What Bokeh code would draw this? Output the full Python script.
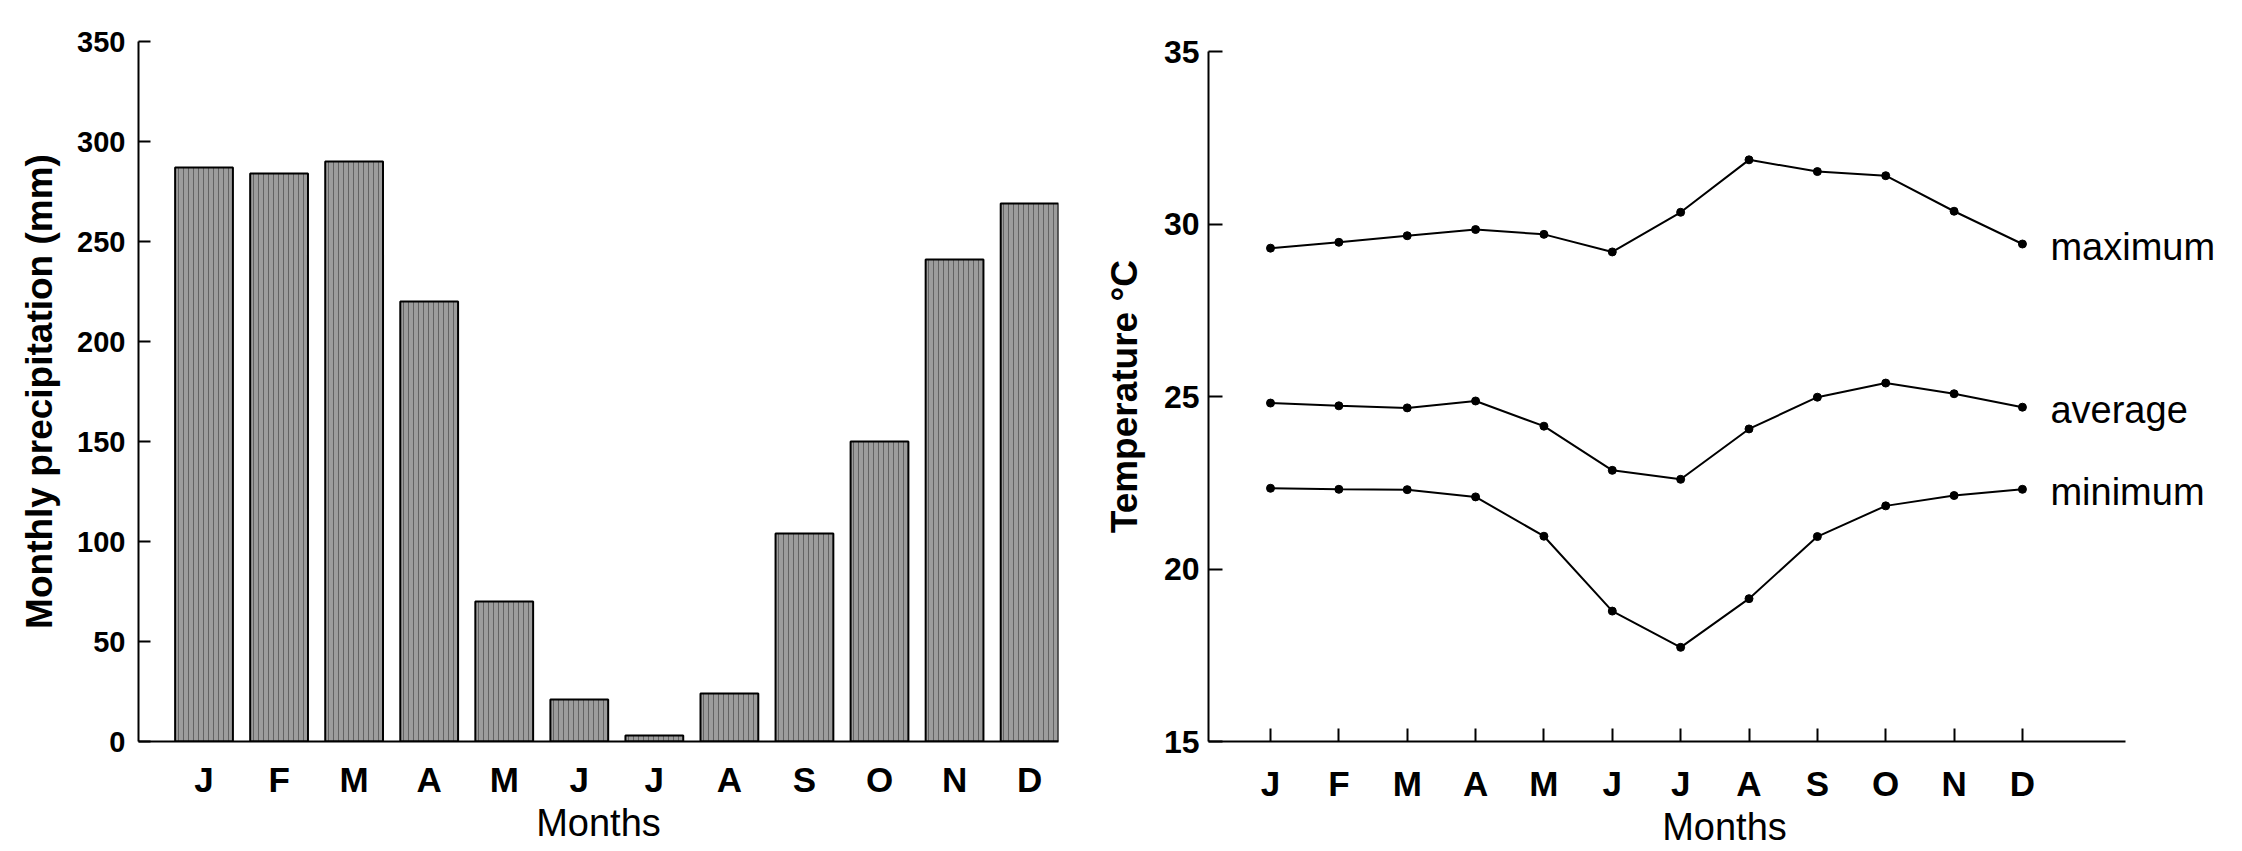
from bokeh.plotting import figure
from bokeh.layouts import row
from bokeh.models import Range1d, FixedTicker, ColumnDataSource, LabelSet
from bokeh.core.properties import value
from bokeh.embed import file_html
from bokeh.resources import INLINE

# ---- data ----
months = ["J", "F", "M", "A", "M", "J", "J", "A", "S", "O", "N", "D"]
month_pos = [1, 2, 3, 4, 5, 6, 7, 8, 9, 10, 11, 12]
precip = [287, 284, 290, 220, 70, 21, 3, 24, 104, 150, 241, 269]
precip_ticks = [0, 50, 100, 150, 200, 250, 300, 350]

t_max = [29.3, 29.47, 29.66, 29.84, 29.7, 29.19, 30.34, 31.86, 31.52, 31.4, 30.37, 29.42]
t_avg = [24.81, 24.73, 24.67, 24.87, 24.14, 22.86, 22.6, 24.06, 24.98, 25.39, 25.08, 24.69]
t_min = [22.34, 22.31, 22.3, 22.09, 20.95, 18.78, 17.73, 19.14, 20.94, 21.83, 22.13, 22.31]
temp_ticks = [15, 20, 25, 30, 35]
series_names = ["maximum", "average", "minimum"]

FONT = "Liberation Sans"
overrides = {m: lab for m, lab in zip(month_pos, months)}


def style(p, tick_font, month_font, tick_in_y, tick_in_x, ylabel_standoff, month_standoff):
    p.grid.visible = False
    p.outline_line_color = None
    p.background_fill_color = "white"
    p.border_fill_color = "white"
    for ax in p.axis:
        ax.axis_line_color = "black"
        ax.axis_line_width = 2
        ax.major_tick_line_color = "black"
        ax.major_tick_line_width = 2
        ax.minor_tick_line_color = None
        ax.major_tick_out = 0
        ax.major_label_text_font = FONT
        ax.major_label_text_color = "black"
        ax.axis_label_text_font = FONT
        ax.axis_label_text_color = "black"
    p.yaxis.major_tick_in = tick_in_y
    p.xaxis.major_tick_in = tick_in_x
    p.yaxis.major_label_text_font_size = tick_font
    p.yaxis.major_label_text_font_style = "bold"
    p.xaxis.major_label_text_font_size = month_font
    p.xaxis.major_label_text_font_style = "bold"
    p.xaxis.major_label_standoff = month_standoff
    p.xaxis.axis_label_text_font_size = "38px"
    p.xaxis.axis_label_text_font_style = "normal"
    p.xaxis.axis_label_standoff = 0
    p.yaxis.axis_label_text_font_size = "37px"
    p.yaxis.axis_label_text_font_style = "bold"
    p.yaxis.axis_label_standoff = ylabel_standoff
    p.xaxis.ticker = FixedTicker(ticks=month_pos)
    p.xaxis.major_label_overrides = overrides


H = 850

# ---- left: precipitation bars ----
p1 = figure(width=1081, height=H, output_backend="svg", toolbar_location=None,
            x_range=Range1d(0.127, 12.385), y_range=Range1d(0, 350),
            min_border_left=138, min_border_right=23, min_border_top=41, min_border_bottom=109)
src1 = ColumnDataSource(dict(x=month_pos, top=precip))
p1.vbar(x="x", top="top", bottom=0, width=0.77, source=src1,
        fill_color="#9c9c9c", line_color="black", line_width=2,
        hatch_pattern="vertical_line", hatch_color="#4a4a4a", hatch_scale=5,
        hatch_weight=1, hatch_alpha=0.7)
style(p1, "29px", "35px", 12, 0, 14, 18)
p1.yaxis.ticker = FixedTicker(ticks=precip_ticks)
p1.yaxis.major_label_standoff = 13
p1.yaxis.axis_label = "Monthly precipitation (mm)"
p1.xaxis.axis_label = "Months"

# ---- right: temperature lines ----
p2 = figure(width=1159, height=H, output_backend="svg", toolbar_location=None,
            x_range=Range1d(0.093, 15.19), y_range=Range1d(15, 35.29),
            min_border_left=127, min_border_right=0, min_border_top=41, min_border_bottom=109)
for ys in (t_max, t_avg, t_min):
    s = ColumnDataSource(dict(x=month_pos, y=ys))
    p2.line("x", "y", source=s, line_color="black", line_width=2)
    p2.scatter("x", "y", source=s, size=8, fill_color="black", line_color="black")
lab_src = ColumnDataSource(dict(x=[12, 12, 12], y=[t_max[-1], t_avg[-1], t_min[-1]], text=series_names))
p2.add_layout(LabelSet(x="x", y="y", text="text", source=lab_src, x_offset=28, y_offset=-3,
                       text_font=value(FONT), text_font_size="38px", text_baseline="middle",
                       text_color="black"))
style(p2, "32px", "35px", 14, 13, 16, 22)
p2.xaxis.bounds = (0.093, 13.51)
p2.yaxis.bounds = (15, 35)
p2.yaxis.ticker = FixedTicker(ticks=temp_ticks)
p2.yaxis.major_label_standoff = 9
p2.yaxis.axis_label = "Temperature  °C"
p2.xaxis.axis_label = "Months"

layout = row(p1, p2)
open("out.html", "w").write(file_html(layout, INLINE))
